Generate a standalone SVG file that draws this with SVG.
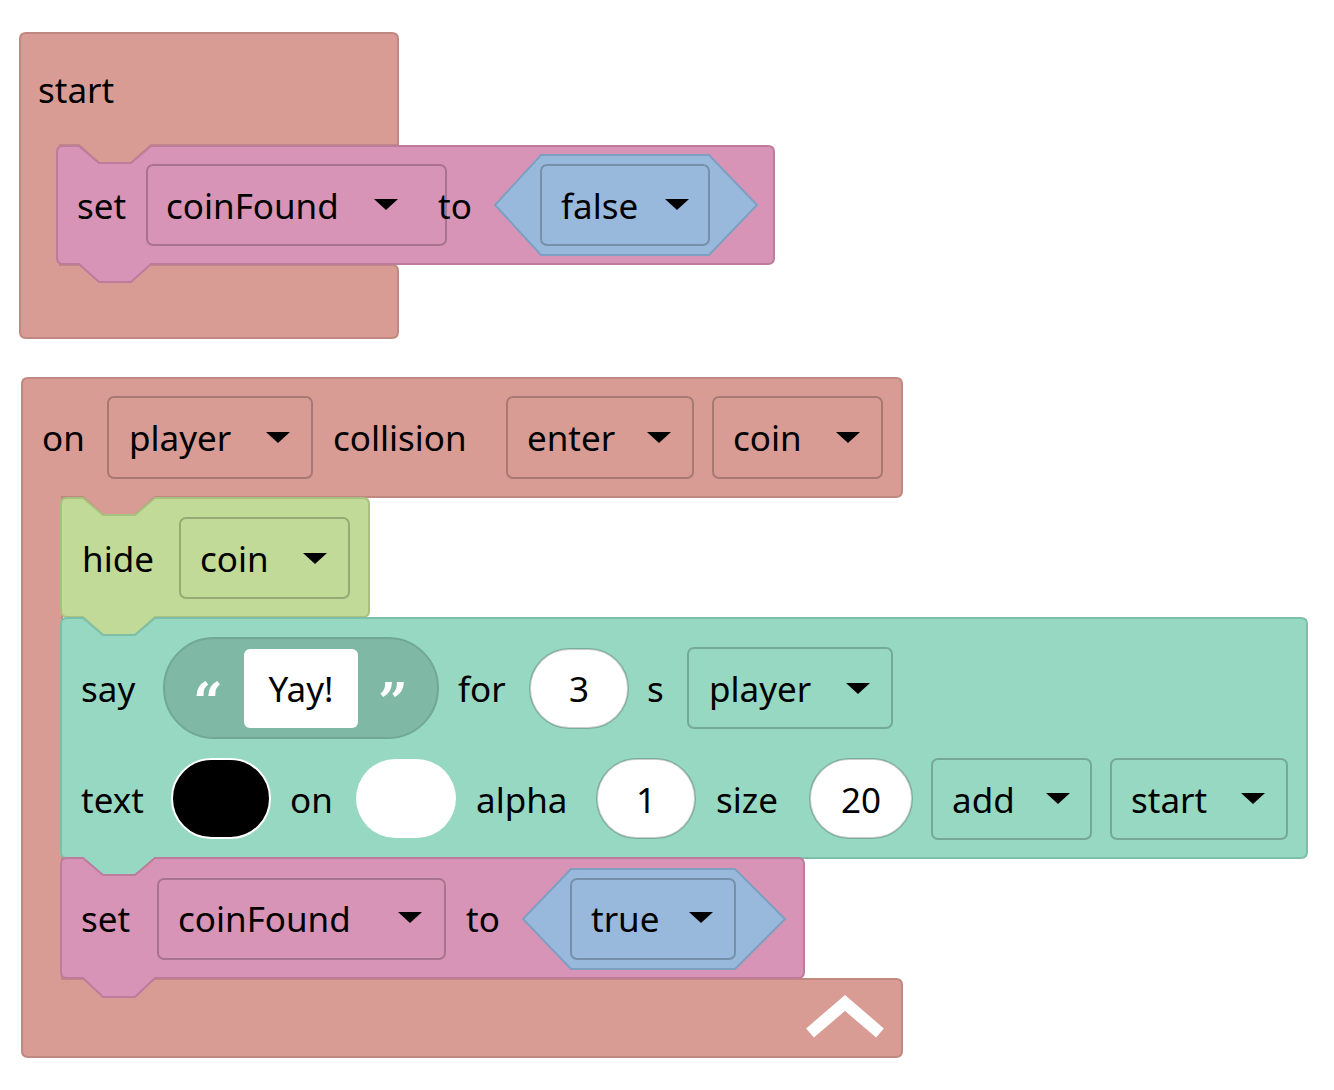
<svg xmlns="http://www.w3.org/2000/svg" width="1334" height="1090" viewBox="0 0 1334 1090">
<style>
text{font-family:"Noto Sans","Open Sans",sans-serif;font-size:35px;fill:#000}
.red{fill:#d89c94;stroke:#bf8880;stroke-width:2}
.pink{fill:#d894b6;stroke:#bd7c9c;stroke-width:2}
.green{fill:#c2da98;stroke:#a8c27e;stroke-width:2}
.teal{fill:#97d8c2;stroke:#7ebfa9;stroke-width:2}
.blue{fill:#98b9db;stroke:#7e9fc1;stroke-width:2}
.fd{fill:none;stroke:rgba(0,0,0,0.22);stroke-width:2}
.num{fill:#fff;stroke:rgba(0,0,0,0.2);stroke-width:2}
.q{fill:#fff;font-size:52px;font-family:"DejaVu Serif",serif;font-weight:bold}
.c{text-anchor:middle}
</style>
<defs>
<path id="ar" d="M0,0 H24 L12,11 Z"/>
</defs>
<g id="start-block">
<path class="red" d="M26,33 H392 Q398,33 398,39 V145 H151 L131,163 H99 L79,145 H60 V265 H392 Q398,265 398,271 V332 Q398,338 392,338 H26 Q20,338 20,332 V39 Q20,33 26,33 Z"/>
<text x="38" y="103">start</text>
</g>
<g id="set-coinfound-false">
<path class="pink" d="M63,146 H79 L99,163 H131 L151,146 H768 Q774,146 774,152 V258 Q774,264 768,264 H151 L131,282 H99 L79,264 H63 Q57,264 57,258 V152 Q57,146 63,146 Z"/>
<text x="77" y="219">set</text>
<rect class="fd" x="147" y="165" width="299" height="80" rx="6"/>
<text x="166" y="219">coinFound</text>
<use href="#ar" x="374" y="199"/>
<text x="438" y="219">to</text>
<path class="blue" d="M541,155 H709 L757,205 L709,255 H541 L495,205 Z"/>
<rect class="fd" x="541" y="165" width="168" height="80" rx="6"/>
<text x="561" y="219">false</text>
<use href="#ar" x="665" y="199"/>
</g>
<g id="on-collision">
<path class="red" d="M28,378 H896 Q902,378 902,384 V491 Q902,497 896,497 H155 L135,515 H103 L83,497 H62 V979 H896 Q902,979 902,985 V1051 Q902,1057 896,1057 H28 Q22,1057 22,1051 V384 Q22,378 28,378 Z"/>
<text x="42" y="451">on</text>
<rect class="fd" x="108" y="397" width="204" height="81" rx="6"/>
<text x="129" y="451">player</text>
<use href="#ar" x="266" y="432"/>
<text x="333" y="451">collision</text>
<rect class="fd" x="507" y="397" width="186" height="81" rx="6"/>
<text x="527" y="451">enter</text>
<use href="#ar" x="647" y="432"/>
<rect class="fd" x="713" y="397" width="169" height="81" rx="6"/>
<text x="733" y="451">coin</text>
<use href="#ar" x="836" y="432"/>
<path d="M810,1033 L845,1003 L880,1033" fill="none" stroke="#fff" stroke-width="12"/>
</g>
<g id="hide-coin">
<path class="green" d="M67,498 H83 L103,515 H135 L155,498 H363 Q369,498 369,504 V611 Q369,617 363,617 H155 L135,635 H103 L83,617 H67 Q61,617 61,611 V504 Q61,498 67,498 Z"/>
<text x="82" y="572">hide</text>
<rect class="fd" x="180" y="518" width="169" height="80" rx="6"/>
<text x="200" y="572">coin</text>
<use href="#ar" x="303" y="553"/>
</g>
<g id="say-text">
<path class="teal" d="M67,618 H83 L103,635 H135 L155,618 H1301 Q1307,618 1307,624 V852 Q1307,858 1301,858 H155 L135,876 H103 L83,858 H67 Q61,858 61,852 V624 Q61,618 67,618 Z"/>
<text x="81" y="702">say</text>
<rect x="164" y="638" width="274" height="100" rx="50" fill="#80b8a6" stroke="#70a895" stroke-width="2"/>
<text x="208" y="720" class="c q">“</text>
<text x="393" y="720" class="c q">”</text>
<rect x="244" y="649" width="114" height="79" rx="6" fill="#fff"/>
<text x="301" y="702" class="c">Yay!</text>
<text x="458" y="702">for</text>
<rect class="num" x="530" y="649" width="98" height="79" rx="39.5"/>
<text x="579" y="702" class="c">3</text>
<text x="647" y="702">s</text>
<rect class="fd" x="688" y="648" width="204" height="80" rx="6"/>
<text x="709" y="702">player</text>
<use href="#ar" x="846" y="683"/>
<text x="81" y="813">text</text>
<rect x="172" y="759" width="98" height="79" rx="39.5" fill="#000" stroke="#fff" stroke-width="2"/>
<text x="290" y="813">on</text>
<rect x="356" y="759" width="100" height="79" rx="39.5" fill="#fff"/>
<text x="476" y="813">alpha</text>
<rect class="num" x="597" y="759" width="98" height="79" rx="39.5"/>
<text x="646" y="813" class="c">1</text>
<text x="716" y="813">size</text>
<rect class="num" x="810" y="759" width="102" height="79" rx="39.5"/>
<text x="861" y="813" class="c">20</text>
<rect class="fd" x="932" y="759" width="159" height="80" rx="6"/>
<text x="952" y="813">add</text>
<use href="#ar" x="1046" y="793"/>
<rect class="fd" x="1111" y="759" width="176" height="80" rx="6"/>
<text x="1131" y="813">start</text>
<use href="#ar" x="1241" y="793"/>
</g>
<g id="set-coinfound-true">
<path class="pink" d="M67,858 H83 L103,875 H135 L155,858 H798 Q804,858 804,864 V972 Q804,978 798,978 H155 L135,997 H103 L83,978 H67 Q61,978 61,972 V864 Q61,858 67,858 Z"/>
<text x="81" y="932">set</text>
<rect class="fd" x="158" y="879" width="287" height="80" rx="6"/>
<text x="178" y="932">coinFound</text>
<use href="#ar" x="398" y="912"/>
<text x="466" y="932">to</text>
<path class="blue" d="M571,869 H735 L785,919 L735,969 H571 L523,919 Z"/>
<rect class="fd" x="571" y="879" width="164" height="80" rx="6"/>
<text x="591" y="932">true</text>
<use href="#ar" x="689" y="912"/>
</g>
</svg>
